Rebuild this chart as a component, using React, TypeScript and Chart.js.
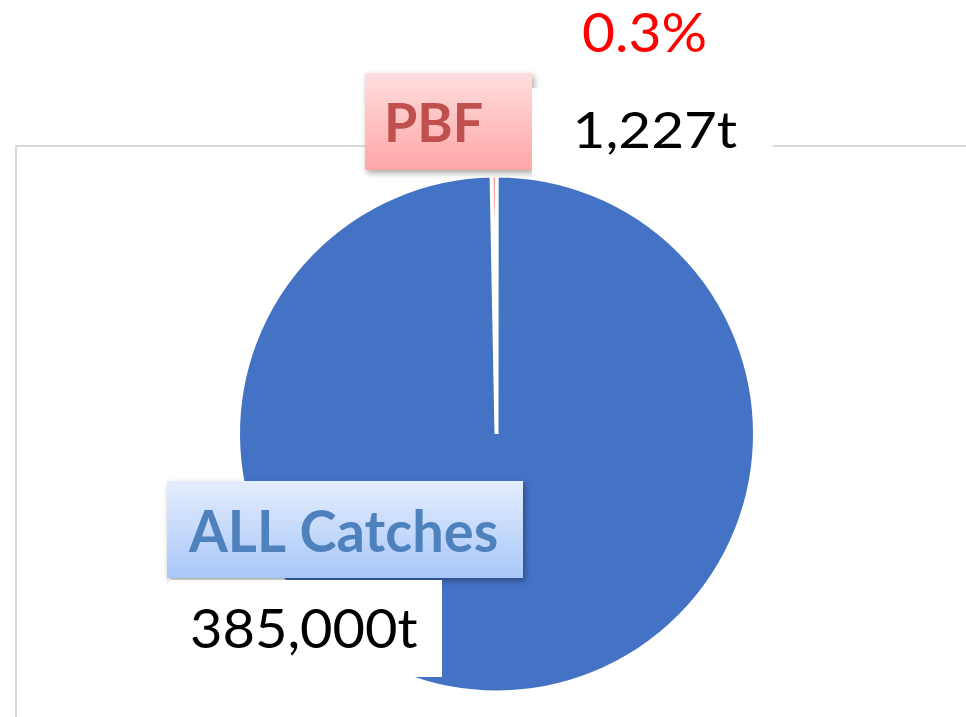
import React, { useEffect, useRef } from "react";
import { Chart, registerables } from "chart.js";

Chart.register(...registerables);

const categories = ["PBF", "ALL Catches"];
const catches = [1227, 385000];
const sliceColors = ["#FF3030", "#4472C4"];

const fmtTonnes = (v: number) => v.toLocaleString("en-US") + "t";
const shareText = ((catches[0] / catches[1]) * 100).toFixed(1) + "%";

function drawFitted(
  ctx: CanvasRenderingContext2D,
  text: string,
  left: number,
  baseline: number,
  width: number,
  cap: number,
  weight: string,
  color: string,
  family = "Lato"
) {
  ctx.save();
  ctx.font = `${weight} 100px ${family}`;
  const capM = ctx.measureText("H").actualBoundingBoxAscent;
  const size = (cap / capM) * 100;
  ctx.font = `${weight} ${size}px ${family}`;
  ctx.textAlign = "left";
  ctx.textBaseline = "alphabetic";
  const m = ctx.measureText(text);
  const ink = m.actualBoundingBoxLeft + m.actualBoundingBoxRight;
  const sx = width / ink;
  ctx.translate(left, baseline);
  ctx.scale(sx, 1);
  ctx.fillStyle = color;
  ctx.fillText(text, m.actualBoundingBoxLeft, 0);
  ctx.restore();
}

function gradBox(
  ctx: CanvasRenderingContext2D,
  x: number,
  y: number,
  w: number,
  h: number,
  top: string,
  bottom: string
) {
  ctx.save();
  const g = ctx.createLinearGradient(0, y, 0, y + h);
  g.addColorStop(0, top);
  g.addColorStop(1, bottom);
  ctx.shadowColor = "rgba(0,0,0,0.35)";
  ctx.shadowBlur = 6;
  ctx.shadowOffsetX = 2;
  ctx.shadowOffsetY = 3;
  ctx.fillStyle = g;
  ctx.fillRect(x, y, w, h);
  ctx.restore();
}

const framePlugin = {
  id: "frame",
  beforeDraw(chart: any) {
    const ctx = chart.ctx as CanvasRenderingContext2D;
    ctx.save();
    ctx.strokeStyle = "#D9D9D9";
    ctx.lineWidth = 2;
    ctx.beginPath();
    ctx.moveTo(16, 717);
    ctx.lineTo(16, 146);
    ctx.lineTo(966, 146);
    ctx.stroke();
    ctx.restore();
  },
};

const labelsPlugin = {
  id: "labels",
  afterDraw(chart: any) {
    const ctx = chart.ctx as CanvasRenderingContext2D;
    // PBF label
    gradBox(ctx, 365, 73, 167, 97, "#FFDEDE", "#FFA6A6");
    drawFitted(ctx, categories[0], 388, 142, 94, 39, "bold", "#C0504D");
    // 1,227t
    ctx.save();
    ctx.fillStyle = "#FFFFFF";
    ctx.fillRect(532, 88, 241, 86);
    ctx.restore();
    drawFitted(ctx, fmtTonnes(catches[0]), 577, 148, 160, 37, "normal", "#000000");
    // 0.3%
    drawFitted(ctx, shareText, 583, 52, 122, 40, "normal", "#FF0000");
    // ALL Catches label
    gradBox(ctx, 167, 481, 356, 97, "#E4EDFD", "#A8C7F9");
    drawFitted(ctx, categories[1], 188, 552, 309, 42, "bold", "#4F81BD");
    // 385,000t
    ctx.save();
    ctx.fillStyle = "#FFFFFF";
    ctx.fillRect(169, 580, 273, 97);
    ctx.restore();
    drawFitted(ctx, fmtTonnes(catches[1]), 192, 648, 226, 40, "normal", "#000000");
  },
};

export default function App() {
  const ref = useRef<HTMLCanvasElement | null>(null);
  useEffect(() => {
    if (!ref.current) return;
    const chart = new Chart(ref.current, {
      type: "pie",
      data: {
        labels: categories,
        datasets: [
          {
            data: catches,
            backgroundColor: sliceColors,
            borderColor: "#FFFFFF",
            borderWidth: 4,
          },
        ],
      },
      options: {
        responsive: false,
        animation: false,
        rotation: -1.1,
        radius: 258.5,
        layout: { padding: { left: 240, right: 213, top: 177, bottom: 26 } },
        plugins: {
          legend: { display: false },
          tooltip: { enabled: false },
        },
      },
      plugins: [framePlugin, labelsPlugin],
    });
    return () => chart.destroy();
  }, []);
  return (
    <div style={{ position: "absolute", left: 0, top: 0, width: 966, height: 717, background: "#FFFFFF" }}>
      <canvas ref={ref} width={966} height={717} style={{ display: "block" }} />
    </div>
  );
}
